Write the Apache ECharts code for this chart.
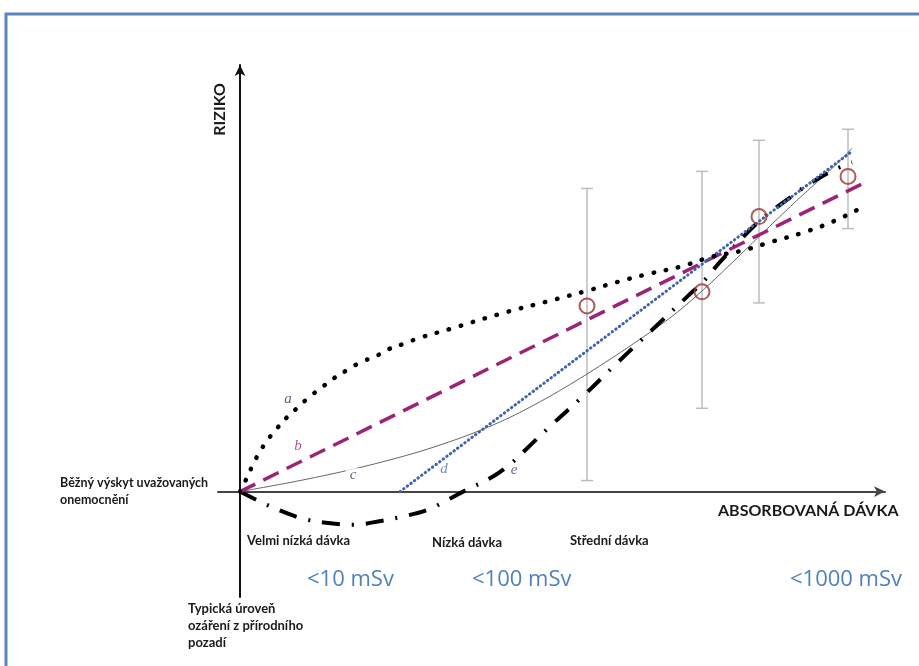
<!DOCTYPE html>
<html>
<head>
<meta charset="utf-8">
<script src="https://cdn.jsdelivr.net/npm/echarts@6/dist/echarts.min.js"></script>
<style>
  html, body { margin: 0; padding: 0; background: #fff; }
  #chart { width: 919px; height: 666px; }
</style>
</head>
<body>
<div id="chart"></div>
<script>
// dávka (x) a riziko (y) v libovolných jednotkách
const curveA = [[0,0],[1.4,2.8],[2.6,5.4],[4,8],[5.6,10.4],[7.4,12.6],[9.4,14.8],[11.6,16.8],[13.8,18.8],[16.4,20.8],[18.8,22.6],[21.4,24.2],[24.2,25.8],[27.2,27],[29.8,28.4],[32.6,29.4],[35.8,30.6],[42,32.4],[52,35.4],[63.4,38.4],[69.4,40],[75.6,41.8],[81.8,43.4],[88,44.8],[94.4,46.8],[100.4,48],[106.4,49.8],[112.6,51.6],[118.6,53.8],[124.4,56.6]];
const curveB = [[0,0],[125,61.6]];
const curveC = [[0,0],[12,2.2],[24,4.8],[36,8],[46,11.4],[54,14.8],[62,19],[70,23.8],[78,29],[86,34.6],[92,39.6],[98,45.2],[104,51],[112,58.6],[118,64],[122.4,68.4]];
const curveD = [[32,0],[122.4,67.8]];
const curveE = [[0,0],[4,-2],[9.6,-4.4],[13.4,-5.6],[19,-6.4],[22.6,-6.6],[28.4,-5.8],[32.4,-5],[37.6,-3.6],[41.6,-1.6],[45,0.2],[50.6,3],[54.4,5.8],[57.6,8.8],[62,13],[68.6,19],[75.6,25.8],[82.6,32.4],[89.6,39],[92.6,41.8],[96.6,46.4],[104,54],[110.6,59],[113.4,61],[118.6,64],[122.4,65.6]];

const studyDose = [69.4, 92.4, 103.8, 121.6];
const studyRisk = [37, 39.8, 54.8, 62.8];
const studyLow = [2.2, 16.6, 37.6, 52.4];
const studyHigh = [60.4, 63.8, 70, 72.2];

const curveNames = ['a', 'b', 'c', 'd', 'e'];
const curveLabelPos = [[9.6,18.4],[11.6,9],[22.6,3.2],[40.8,4.4],[54.8,4.2]];
const curveLabelColors = ['#2f3f66', '#9b2477', '#2f3f66', '#4a6fb0', '#2f3f66'];

const chart = echarts.init(document.getElementById('chart'));

const boldText = (x, y, text, size) => ({
    type: 'text', left: x, top: y,
    style: { text: text, font: 'bold ' + (size || 13) + 'px Lato', fill: '#1a1a1a', lineHeight: 17 }
});
const blueText = (x, y, text) => ({
    type: 'text', left: x, top: y,
    style: { text: text, font: '22px "Open Sans"', fill: '#4f81bd' }
});

const option = {
    animation: false,
    backgroundColor: '#fff',
    grid: { left: 218, right: 34, top: 65, bottom: 69, outerBoundsMode: 'none' },
    xAxis: {
        type: 'value', min: -4.4, max: 129,
        axisLine: { onZero: true, symbol: ['none', 'arrow'], symbolSize: [8, 11],
            lineStyle: { color: '#444', width: 2 } },
        axisTick: { show: false }, axisLabel: { show: false }, splitLine: { show: false }
    },
    yAxis: {
        type: 'value', min: -21, max: 85,
        axisLine: { onZero: true, symbol: ['none', 'arrow'], symbolSize: [8, 11],
            lineStyle: { color: '#111', width: 2 } },
        axisTick: { show: false }, axisLabel: { show: false }, splitLine: { show: false }
    },
    graphic: [
        { type: 'rect', shape: { x: 6, y: 14, width: 1200, height: 1000 },
          style: { fill: 'none', stroke: '#5a86bd', lineWidth: 3 } },
        { type: 'text', left: 212, top: 83, rotation: Math.PI / 2,
          style: { text: 'RIZIKO', font: 'bold 16px Lato', fill: '#1a1a1a' } },
        boldText(718, 502, 'ABSORBOVANÁ DÁVKA', 16),
        boldText(60, 474, 'Běžný výskyt uvažovaných\nonemocnění', 12.5),
        boldText(247, 532, 'Velmi nízká dávka'),
        boldText(432, 534, 'Nízká dávka'),
        boldText(570, 532, 'Střední dávka'),
        boldText(188, 600, 'Typická úroveň\nozáření z přírodního\npozadí'),
        blueText(307, 569, '<10 mSv'),
        blueText(472, 569, '<100 mSv'),
        blueText(790, 569, '<1000 mSv')
    ],
    series: [
        {
            name: 'errorbars', type: 'custom', z: 1,
            data: studyDose.map((x, i) => [x, studyLow[i], studyHigh[i]]),
            renderItem: function (params, api) {
                const lo = api.coord([api.value(0), api.value(1)]);
                const hi = api.coord([api.value(0), api.value(2)]);
                const st = { stroke: '#bdbdbd', lineWidth: 1.5 };
                return {
                    type: 'group',
                    children: [
                        { type: 'line', shape: { x1: lo[0], y1: lo[1], x2: hi[0], y2: hi[1] }, style: st },
                        { type: 'line', shape: { x1: lo[0] - 6, y1: lo[1], x2: lo[0] + 6, y2: lo[1] }, style: st },
                        { type: 'line', shape: { x1: hi[0] - 6, y1: hi[1], x2: hi[0] + 6, y2: hi[1] }, style: st }
                    ]
                };
            }
        },
        {
            name: 'c', type: 'line', data: curveC, smooth: 0.3, symbol: 'none', z: 2,
            lineStyle: { color: '#666', width: 1 }
        },
        {
            name: 'e', type: 'line', data: curveE, smooth: 0.4, symbol: 'none', z: 3,
            lineStyle: { color: '#000', width: 4, type: [18, 12, 2, 12] }
        },
        {
            name: 'b', type: 'line', data: curveB, symbol: 'none', z: 3,
            lineStyle: { color: '#9b2477', width: 3.5, type: [17, 9] }
        },
        {
            name: 'd', type: 'line', data: curveD, symbol: 'none', z: 3,
            lineStyle: { color: '#3f64a8', width: 3, type: [0.5, 4], cap: 'round' }
        },
        {
            name: 'a', type: 'line', data: curveA, smooth: 0.4, symbol: 'none', z: 4,
            lineStyle: { color: '#000', width: 4.5, type: [0.5, 12], cap: 'round' }
        },
        {
            name: 'studie', type: 'scatter', z: 5,
            data: studyDose.map((x, i) => [x, studyRisk[i]]),
            symbol: 'circle', symbolSize: 15,
            itemStyle: { color: 'rgba(255,255,255,0)', borderColor: '#99352f', borderWidth: 2 }
        },
        {
            name: 'popisky', type: 'scatter', z: 6, symbolSize: 0,
            data: curveNames.map((n, i) => ({
                name: n, value: curveLabelPos[i],
                label: {
                    color: curveLabelColors[i],
                    backgroundColor: n === 'c' ? '#fff' : 'transparent',
                    padding: n === 'c' ? [0, 4] : 0
                }
            })),
            label: {
                show: true, position: 'inside', formatter: '{b}',
                fontFamily: 'Liberation Serif', fontStyle: 'italic', fontSize: 15
            }
        }
    ]
};

chart.setOption(option);
</script>
</body>
</html>
